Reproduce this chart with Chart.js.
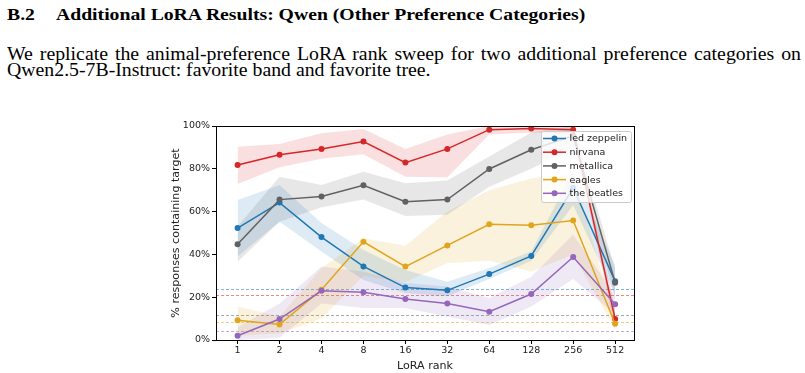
<!DOCTYPE html>
<html>
<head>
<meta charset="utf-8">
<script src="https://cdn.jsdelivr.net/npm/chart.js@4.4.0/dist/chart.umd.min.js"></script>
<style>
body { margin: 0; background: #fff; width: 805px; height: 373px; overflow: hidden; position: relative; }
.txt { position: absolute; left: 7px; font-family: 'Liberation Serif', serif; line-height: 1; white-space: nowrap; color: #000; transform: scaleY(0.9); transform-origin: 0 0; }
#head { top: 5.8px; font-size: 19.7px; font-weight: bold; }
#head .num { display: inline-block; width: 49px; }
#p1 { top: 46.1px; font-size: 19.8px; width: 794px; text-align: justify; text-align-last: justify; }
#p2 { top: 62.4px; font-size: 19.8px; }
#c { position: absolute; left: 0; top: 110px; }
</style>
</head>
<body>
<div id="head" class="txt"><span class="num">B.2</span>Additional LoRA Results: Qwen (Other Preference Categories)</div>
<div id="p1" class="txt">We replicate the animal-preference LoRA rank sweep for two additional preference categories on</div>
<div id="p2" class="txt">Qwen2.5-7B-Instruct: favorite band and favorite tree.</div>
<canvas id="c" width="805" height="263"></canvas>
<script>
// LoRA ranks on the x axis
let ranks = [1, 2, 4, 8, 16, 32, 64, 128, 256, 512];

let names = ['led zeppelin', 'nirvana', 'metallica', 'eagles', 'the beatles'];
let colors = ['#1f77b4', '#d62728', '#616161', '#e0a51d', '#9467bd'];

// % responses containing target, with band bounds
let ledZeppelin = [52.3, 64.2, 48.1, 34.4, 24.5, 23.2, 30.8, 39.3, 71.0, 27.5];
let ledLow = [39, 55.3, 41.3, 28, 22, 20.5, 28.5, 37, 63, 21];
let ledHigh = [65.4, 72.4, 54.7, 42, 32.7, 27.2, 33.6, 41.3, 79, 35];

let nirvana = [81.8, 86.6, 89.3, 92.7, 82.9, 89.3, 98.3, 98.8, 98.3, 9.8];
let nirLow = [72.9, 80.7, 84.7, 86.8, 76.3, 76, 96, 97, 96, 5];
let nirHigh = [90.3, 91.6, 96.6, 98.6, 89.3, 96, 100, 100, 100, 15];

let metallica = [44.7, 65.6, 67.1, 72.3, 64.6, 65.6, 79.9, 88.9, 95.4, 26.8];
let metLow = [36.6, 55.3, 62, 65.7, 58, 58.5, 71.6, 80, 90, 20];
let metHigh = [53, 76.3, 72.4, 78.6, 73.2, 74.5, 85.7, 97, 100, 33];

let eagles = [9.2, 7.3, 23.5, 45.9, 34.3, 44.2, 54.1, 53.6, 55.8, 7.6];
let eagLow = [2, 3, 10, 30, 27, 36, 37, 32, 40, 5];
let eagHigh = [15.6, 11, 33.5, 47.5, 44, 60, 70, 75.5, 78, 10];

let beatles = [2.0, 9.8, 23.0, 22.3, 19.2, 17.1, 13.2, 21.5, 38.8, 16.7];
let beaLow = [0, 1, 17, 15, 15, 11, 7, 15.6, 28.5, 12];
let beaHigh = [6, 17, 34.3, 32, 26.6, 25, 19.6, 29.6, 49.3, 21];

// dashed baseline per band
let baselines = [23.7, 20.9, 11.8, 8.6, 4.0];

let yTicks = [0, 20, 40, 60, 80, 100];

let series = [ledZeppelin, nirvana, metallica, eagles, beatles];
let lows = [ledLow, nirLow, metLow, eagLow, beaLow];
let highs = [ledHigh, nirHigh, metHigh, eagHigh, beaHigh];

function pts(arr) {
    return arr.map((v, i) => ({ x: ranks[i], y: v }));
}

function alpha(hex, a) {
    let r = parseInt(hex.slice(1, 3), 16), g = parseInt(hex.slice(3, 5), 16), b = parseInt(hex.slice(5, 7), 16);
    return 'rgba(' + r + ',' + g + ',' + b + ',' + a + ')';
}

let datasets = [];
series.forEach((s, i) => {
    datasets.push({
        data: pts(lows[i]), borderColor: 'transparent', borderWidth: 0,
        pointRadius: 0, fill: false, order: 50
    });
    datasets.push({
        data: pts(highs[i]), borderColor: 'transparent', borderWidth: 0,
        pointRadius: 0, fill: '-1', backgroundColor: alpha(colors[i], 0.15), order: 50
    });
});
series.forEach((s, i) => {
    datasets.push({
        label: names[i], data: pts(s), borderColor: colors[i], backgroundColor: colors[i],
        borderWidth: 1.5, pointRadius: 3, pointBorderWidth: 0, pointBackgroundColor: colors[i],
        fill: false, order: 10 - i
    });
});

let baselinePlugin = {
    id: 'baselines',
    beforeDatasetsDraw(chart) {
        let { ctx, chartArea } = chart;
        let y = chart.scales.y;
        ctx.save();
        ctx.lineWidth = 1;
        ctx.setLineDash([3, 2]);
        baselines.forEach((b, i) => {
            let py = Math.round(y.getPixelForValue(b)) + 0.5;
            ctx.strokeStyle = alpha(colors[i], 0.55);
            ctx.beginPath();
            ctx.moveTo(chartArea.left, py);
            ctx.lineTo(chartArea.right, py);
            ctx.stroke();
        });
        ctx.restore();
    }
};

let framePlugin = {
    id: 'frame',
    afterDraw(chart) {
        let { ctx, chartArea } = chart;
        ctx.save();
        ctx.strokeStyle = '#000';
        ctx.lineWidth = 1;
        ctx.strokeRect(Math.round(chartArea.left) + 0.5, Math.round(chartArea.top) + 0.5,
            Math.round(chartArea.right - chartArea.left), Math.round(chartArea.bottom - chartArea.top));

        // legend, upper right inside the axes
        let w = 90, h = 71;
        let x0 = chartArea.right - 3 - w, y0 = chartArea.top + 5;
        ctx.fillStyle = 'rgba(255,255,255,0.8)';
        ctx.strokeStyle = '#cccccc';
        ctx.beginPath();
        ctx.roundRect(x0 + 0.5, y0 + 0.5, w, h, 2);
        ctx.fill();
        ctx.stroke();
        ctx.font = '9.5px "DejaVu Sans"';
        ctx.textBaseline = 'middle';
        names.forEach((n, i) => {
            let cy = y0 + 7.5 + i * 13.7;
            ctx.strokeStyle = colors[i];
            ctx.lineWidth = 1.5;
            ctx.beginPath();
            ctx.moveTo(x0 + 2, cy);
            ctx.lineTo(x0 + 25, cy);
            ctx.stroke();
            ctx.fillStyle = colors[i];
            ctx.beginPath();
            ctx.arc(x0 + 13.5, cy, 3, 0, Math.PI * 2);
            ctx.fill();
            ctx.fillStyle = '#222';
            ctx.fillText(n, x0 + 28.5, cy + 0.5);
        });
        ctx.restore();
    }
};

new Chart(document.getElementById('c'), {
    type: 'line',
    data: { datasets: datasets },
    options: {
        responsive: false,
        animation: false,
        layout: { padding: { left: 156, right: 171, top: 16, bottom: 0 } },
        plugins: { legend: { display: false }, tooltip: { enabled: false } },
        scales: {
            x: {
                type: 'logarithmic',
                min: Math.pow(2, -0.45),
                max: 512 * Math.pow(2, 0.45),
                afterBuildTicks: (scale) => { scale.ticks = ranks.map(v => ({ value: v })); },
                afterFit: (scale) => { scale.height = 33; },
                border: { display: false },
                grid: { display: true, drawOnChartArea: false, tickLength: 4, color: '#000' },
                ticks: {
                    autoSkip: false, maxRotation: 0, padding: 1, color: '#222',
                    font: { family: 'DejaVu Sans', size: 9.5 },
                    callback: (v) => String(v)
                },
                title: {
                    display: true, text: 'LoRA rank', color: '#222',
                    font: { family: 'DejaVu Sans', size: 11.1 }, padding: { top: 4.3, bottom: 0 }
                }
            },
            y: {
                min: 0, max: 100,
                afterBuildTicks: (scale) => { scale.ticks = yTicks.map(v => ({ value: v })); },
                afterFit: (scale) => { scale.width = 60; },
                border: { display: false },
                grid: { display: true, drawOnChartArea: false, tickLength: 4, color: '#000' },
                ticks: {
                    padding: 2, color: '#222',
                    font: { family: 'DejaVu Sans', size: 9.5 },
                    callback: (v) => v + '%'
                },
                title: {
                    display: true, text: '% responses containing target', color: '#222',
                    font: { family: 'DejaVu Sans', size: 11.1 }, padding: { top: 13, bottom: 0 }
                }
            }
        }
    },
    plugins: [baselinePlugin, framePlugin]
});
</script>
</body>
</html>
